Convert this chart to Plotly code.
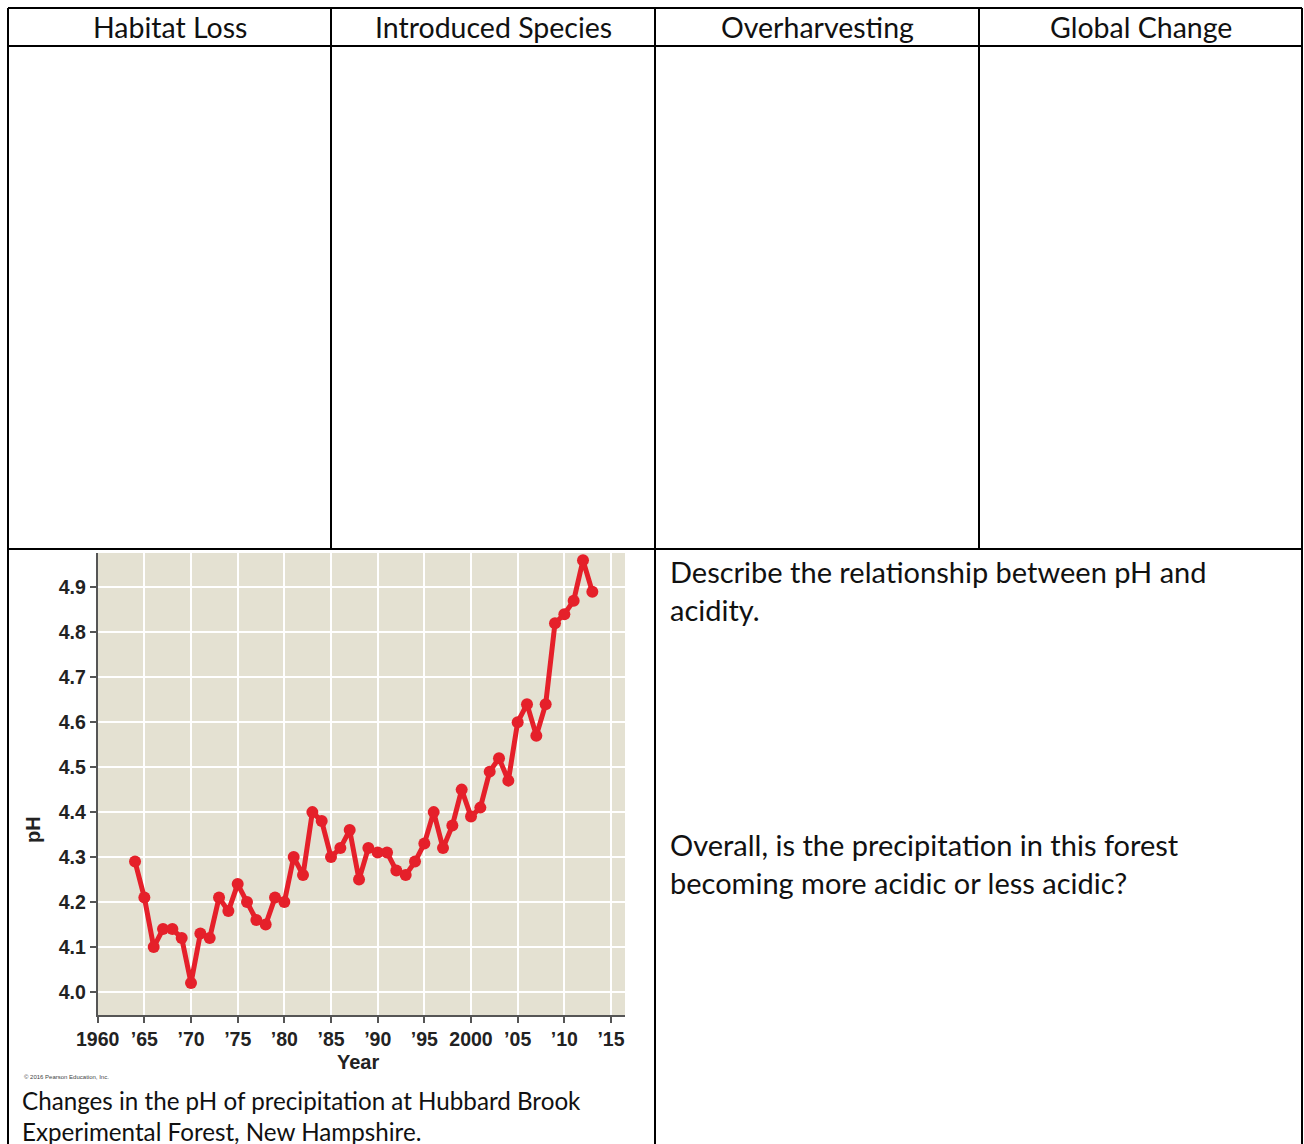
import plotly.graph_objects as go

# data
years = list(range(1964, 2014))
ph = [4.29, 4.21, 4.10, 4.14, 4.14, 4.12, 4.02, 4.13, 4.12, 4.21,
      4.18, 4.24, 4.20, 4.16, 4.15, 4.21, 4.20, 4.30, 4.26, 4.40,
      4.38, 4.30, 4.32, 4.36, 4.25, 4.32, 4.31, 4.31, 4.27, 4.26,
      4.29, 4.33, 4.40, 4.32, 4.37, 4.45, 4.39, 4.41, 4.49, 4.52,
      4.47, 4.60, 4.64, 4.57, 4.64, 4.82, 4.84, 4.87, 4.96, 4.89]

x_tickvals = [1960, 1965, 1970, 1975, 1980, 1985, 1990, 1995, 2000, 2005, 2010, 2015]
x_ticktext = ["1960", "’65", "’70", "’75", "’80", "’85", "’90", "’95", "2000", "’05", "’10", "’15"]
y_tickvals = [4.0, 4.1, 4.2, 4.3, 4.4, 4.5, 4.6, 4.7, 4.8, 4.9]

headers = ["Habitat Loss", "Introduced Species", "Overharvesting", "Global Change"]
question_1 = "Describe the relationship between pH and<br>acidity."
question_2 = "Overall, is the precipitation in this forest<br>becoming more acidic or less acidic?"
caption = "Changes in the pH of precipitation at Hubbard Brook<br>Experimental Forest, New Hampshire."

# page geometry: the body margin is removed below, so figure px == page px
W, H = 1304, 1144


def px(p):
    return p / W


def py(p):
    return 1 - p / H


red = "#E5202A"
axis_col = "#555555"
body_font = "Lato, 'Open Sans', sans-serif"
chart_font = "'Liberation Sans', Arial, sans-serif"

fig = go.Figure()
fig.add_trace(go.Scatter(
    x=years, y=ph, mode="lines+markers",
    line=dict(color=red, width=5),
    marker=dict(color=red, size=12),
    showlegend=False,
))

fig.update_xaxes(
    domain=[px(97.7), px(625)], range=[1960, 2016.5], automargin=False,
    tickvals=x_tickvals, ticktext=x_ticktext,
    showgrid=True, gridcolor="white", gridwidth=1.5,
    showline=True, linecolor=axis_col, linewidth=2,
    ticks="outside", ticklen=6, tickcolor=axis_col, tickwidth=1.5,
    tickfont=dict(family=chart_font, size=19.5, color="#222", weight="bold"),
    zeroline=False,
)
fig.update_yaxes(
    domain=[py(1015), py(553)], range=[3.949, 4.976], automargin=False,
    tickvals=y_tickvals, tickformat=".1f",
    showgrid=True, gridcolor="white", gridwidth=1.5,
    showline=True, linecolor=axis_col, linewidth=2,
    ticks="outside", ticklen=6, tickcolor=axis_col, tickwidth=1.5,
    tickfont=dict(family=chart_font, size=19.5, color="#222", weight="bold"),
    zeroline=False,
)

# table borders
lw = 2
shapes = []
for yy in [8, 46, 549]:
    shapes.append(dict(x0=px(8), x1=px(1302), y0=py(yy), y1=py(yy)))
for xx in [8, 655, 1302]:
    shapes.append(dict(x0=px(xx), x1=px(xx), y0=py(8), y1=py(1160)))
for xx in [331, 979]:
    shapes.append(dict(x0=px(xx), x1=px(xx), y0=py(8), y1=py(549)))
for s in shapes:
    s.update(type="line", xref="paper", yref="paper", line=dict(color="black", width=lw))

annotations = []
col_edges = [8, 331, 655, 979, 1302]
for i, h in enumerate(headers):
    annotations.append(dict(
        x=px((col_edges[i] + col_edges[i + 1]) / 2), y=py(27), text=h,
        font=dict(family=body_font, size=28.5, color="#111"),
    ))
annotations += [
    dict(x=px(668), y=py(552), text=question_1, xanchor="left", yanchor="top", align="left",
         font=dict(family=body_font, size=29, color="#111")),
    dict(x=px(668), y=py(825), text=question_2, xanchor="left", yanchor="top", align="left",
         font=dict(family=body_font, size=29, color="#111")),
    dict(x=px(20), y=py(1084), text=caption, xanchor="left", yanchor="top", align="left",
         font=dict(family=body_font, size=24.2, color="#111")),
    dict(x=px(22), y=py(1077), text="© 2016 Pearson Education, Inc.", xanchor="left",
         font=dict(family=chart_font, size=6, color="#444")),
    dict(x=px(358), y=py(1062), text="Year",
         font=dict(family=chart_font, size=20, color="#222", weight="bold")),
    dict(x=px(33), y=py(830), text="pH", textangle=-90,
         font=dict(family=chart_font, size=20, color="#222", weight="bold")),
]
for a in annotations:
    a.update(xref="paper", yref="paper", showarrow=False)
    a.setdefault("xanchor", "center")
    a.setdefault("yanchor", "middle")

fig.update_layout(
    width=W, height=H, autosize=False,
    margin=dict(l=0, r=0, t=0, b=0),
    paper_bgcolor="white", plot_bgcolor="#E4E1D2",
    shapes=shapes, annotations=annotations,
)

fig.write_html(
    "out.html",
    config={"displayModeBar": False},
    post_script="document.body.style.margin = '0';",
)
